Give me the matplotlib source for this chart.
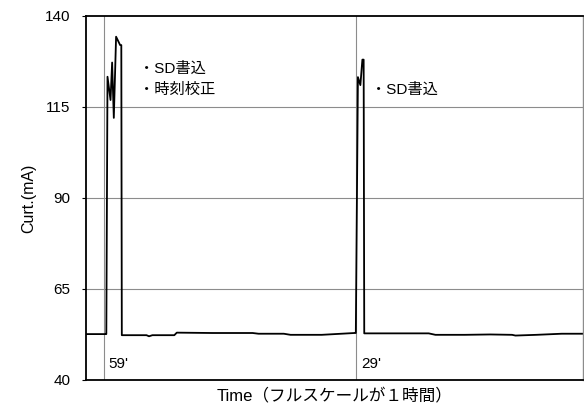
import matplotlib
matplotlib.use('Agg')
import matplotlib.pyplot as plt

plt.rcParams['font.family'] = ['Liberation Sans', 'Noto Sans CJK JP', 'DejaVu Sans']

# Time in minutes from the left edge of the chart (full scale = 1 hour)
time_min = [0.0, 2.34, 2.43, 2.57, 2.93, 3.12, 3.32, 3.59, 4.07, 4.21, 4.27,
            5.0, 7.2, 7.5, 7.9, 10.5, 10.8, 15.0, 19.8, 20.5, 23.5, 24.3, 28.0,
            31.9, 32.05, 32.3, 32.59, 32.83, 32.98, 33.05,
            38.0, 40.7, 41.5, 45.0, 48.0, 50.6, 51.0, 53.5, 56.5, 58.9]
current_ma = [52.6, 52.6, 52.6, 123.3, 116.9, 127.2, 112.0, 134.3, 132.0, 132.0, 52.3,
              52.3, 52.3, 52.0, 52.3, 52.3, 53.0, 52.9, 52.9, 52.7, 52.7, 52.4, 52.4,
              52.9, 52.9, 123.2, 121.0, 128.0, 128.0, 52.8,
              52.8, 52.8, 52.4, 52.4, 52.5, 52.4, 52.2, 52.4, 52.7, 52.7]

y_ticks = [40, 65, 90, 115, 140]
marker_times = [2.1, 32.1]
marker_labels = ["59'", "29'"]

fig = plt.figure(figsize=(5.84, 4.09), dpi=100)
ax = fig.add_axes([0.147, 0.071, 0.851, 0.890])

# Horizontal grid and the two time markers
for v in y_ticks[1:-1]:
    ax.axhline(v, color='#8c8c8c', lw=0.8, zorder=1)
for t, lab in zip(marker_times, marker_labels):
    ax.axvline(t, color='#8c8c8c', lw=0.8, zorder=1)
    ax.text(t + 0.6, 44.3, lab, fontsize=11, ha='left', va='center')

ax.plot(time_min, current_ma, color='black', lw=1.3, zorder=3)

ax.text(6.3, 125.6, '・SD書込', fontsize=11, va='center')
ax.text(6.3, 119.6, '・時刻校正', fontsize=11, va='center')
ax.text(33.8, 119.6, '・SD書込', fontsize=11, va='center')

ax.set_xlim(0, 59)
ax.set_ylim(40, 140)
ax.set_yticks(y_ticks)
ax.set_xticks([])
ax.tick_params(axis='y', length=3, width=0.8, labelsize=11, pad=8)
ax.set_ylabel('Curt.(mA)', fontsize=11.5, labelpad=6)
ax.set_xlabel('Time（フルスケールが１時間）', fontsize=12, labelpad=6)

for side in ['top', 'left', 'bottom']:
    ax.spines[side].set_color('black')
    ax.spines[side].set_linewidth(1.3)
ax.spines['right'].set_color('#8c8c8c')
ax.spines['right'].set_linewidth(1.0)

fig.savefig('out.png', dpi=100)
